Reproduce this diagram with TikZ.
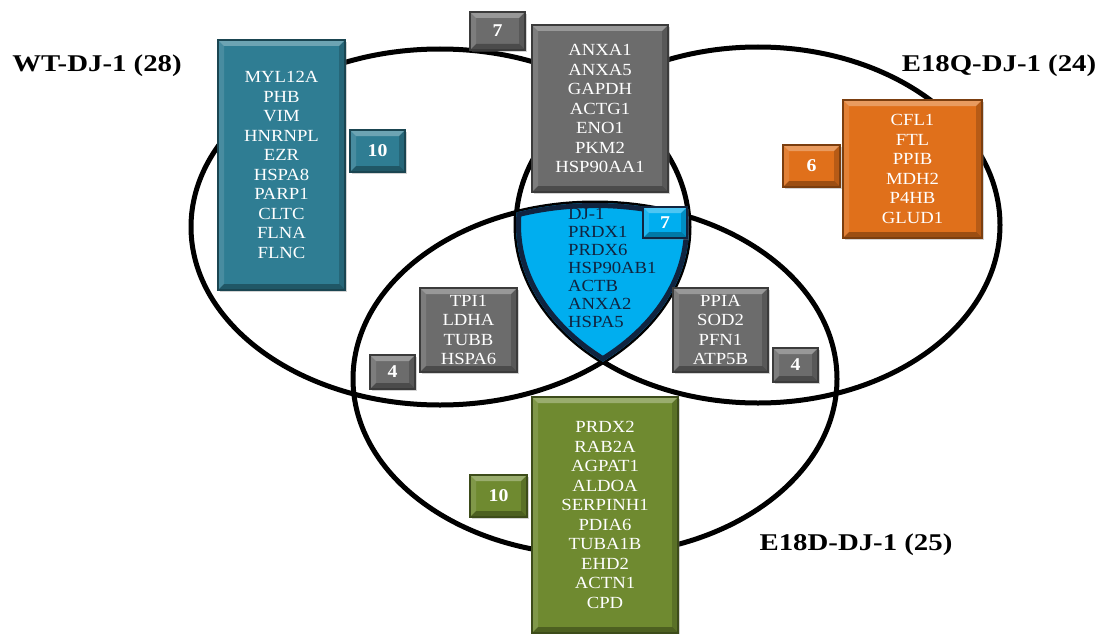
\documentclass[tikz,border=0pt]{standalone}
\usepackage{fontspec}
\setmainfont{Liberation Serif}[FakeStretch=1.1]
\newfontfamily\titlefont{Liberation Serif}[FakeStretch=1.2]
\usetikzlibrary{shadows}

\definecolor{wtteal}{RGB}{47,125,147}
\definecolor{qorange}{RGB}{224,112,27}
\definecolor{dgreen}{RGB}{111,138,48}
\definecolor{sharedgray}{RGB}{108,108,108}
\definecolor{triblue}{RGB}{0,174,239}
\definecolor{trinavy}{RGB}{16,36,64}

% the three sets
\newcommand{\wtoval}{(440,227) ellipse [x radius=249pt, y radius=178pt]}
\newcommand{\qoval}{(758,225) ellipse [x radius=242pt, y radius=178pt]}
\newcommand{\doval}{(595,379) ellipse [x radius=242pt, y radius=176pt]}

\tikzset{
  bevel/.style={path picture={
    \path (path picture bounding box.north west) coordinate (bnw)
          (path picture bounding box.north east) coordinate (bne)
          (path picture bounding box.south west) coordinate (bsw)
          (path picture bounding box.south east) coordinate (bse);
    \fill[white,opacity=.3] (bnw) -- (bne) -- ([shift={(-6pt,-6pt)}]bne) -- ([shift={(6pt,-6pt)}]bnw) -- cycle;
    \fill[white,opacity=.12] (bnw) -- (bsw) -- ([shift={(6pt,6pt)}]bsw) -- ([shift={(6pt,-6pt)}]bnw) -- cycle;
    \fill[black,opacity=.3] (bsw) -- (bse) -- ([shift={(-6pt,6pt)}]bse) -- ([shift={(6pt,6pt)}]bsw) -- cycle;
    \fill[black,opacity=.18] (bne) -- (bse) -- ([shift={(-6pt,6pt)}]bse) -- ([shift={(-6pt,-6pt)}]bne) -- cycle;
  }},
  genebox/.style={draw=#1!55!black, line width=1.2pt, fill=#1, bevel,
    drop shadow={shadow xshift=2pt, shadow yshift=-2pt, opacity=.35},
    text=white, align=center, inner sep=0pt,
    font=\fontsize{17}{19.5}\selectfont},
  numbox/.style={genebox=#1, font=\fontsize{18}{20}\selectfont\bfseries},
  setlabel/.style={font=\titlefont\fontsize{24}{26}\selectfont\bfseries},
}

\begin{document}
\begin{tikzpicture}[x=1pt,y=-1pt]
\useasboundingbox (0,0) rectangle (1103,634);

\draw[line width=5pt] \wtoval;
\draw[line width=5pt] \qoval;
\draw[line width=5pt] \doval;

% common to all three
\begin{scope}
  \clip \wtoval;
  \clip \qoval;
  \clip \doval;
  \fill[triblue] (400,150) rectangle (800,400);
  \draw[trinavy, line width=10pt] \wtoval \qoval \doval;
\end{scope}

\node[genebox=wtteal, minimum width=127pt, minimum height=250pt] (wtgenes) at (281.5,165)
  {MYL12A\\PHB\\VIM\\HNRNPL\\EZR\\HSPA8\\PARP1\\CLTC\\FLNA\\FLNC};
\node[numbox=wtteal, minimum width=55pt, minimum height=42pt] (wtcount) at (377.5,151) {10};

\node[genebox=sharedgray, minimum width=136pt, minimum height=167pt] (wqgenes) at (600,108.5)
  {ANXA1\\ANXA5\\GAPDH\\ACTG1\\ENO1\\PKM2\\HSP90AA1};
\node[numbox=sharedgray, minimum width=55pt, minimum height=38pt] (wqcount) at (497.5,31) {7};

\node[genebox=qorange, minimum width=139pt, minimum height=138pt] (qgenes) at (912.5,169)
  {CFL1\\FTL\\PPIB\\MDH2\\P4HB\\GLUD1};
\node[numbox=qorange, minimum width=57pt, minimum height=42pt] (qcount) at (811.5,166) {6};

\node[genebox=sharedgray, minimum width=97pt, minimum height=84pt] (wdgenes) at (468.5,330)
  {TPI1\\LDHA\\TUBB\\HSPA6};
\node[numbox=sharedgray, minimum width=45pt, minimum height=34pt] (wdcount) at (392.5,372) {4};

\node[genebox=sharedgray, minimum width=95pt, minimum height=84pt] (qdgenes) at (720.5,330)
  {PPIA\\SOD2\\PFN1\\ATP5B};
\node[numbox=sharedgray, minimum width=45pt, minimum height=34pt] (qdcount) at (795.5,365) {4};

\node[genebox=dgreen, minimum width=146pt, minimum height=236pt] (dgenes) at (605,515)
  {PRDX2\\RAB2A\\AGPAT1\\ALDOA\\SERPINH1\\PDIA6\\TUBA1B\\EHD2\\ACTN1\\CPD};
\node[numbox=dgreen, minimum width=57pt, minimum height=42pt] (dcount) at (498.5,496) {10};

\node[anchor=west, align=left, text=trinavy, inner sep=0pt,
  font=\fontsize{17}{18}\selectfont] (trigenes) at (568,268)
  {DJ-1\\PRDX1\\PRDX6\\HSP90AB1\\ACTB\\ANXA2\\HSPA5};
\node[numbox=triblue, draw=trinavy, minimum width=44pt, minimum height=31pt] (tricount) at (665,222.5) {7};

\node[setlabel] (wtlabel) at (97,66) {WT-DJ-1 (28)};
\node[setlabel] (qlabel) at (999,66) {E18Q-DJ-1 (24)};
\node[setlabel] (dlabel) at (856,545) {E18D-DJ-1 (25)};
\end{tikzpicture}
\end{document}
